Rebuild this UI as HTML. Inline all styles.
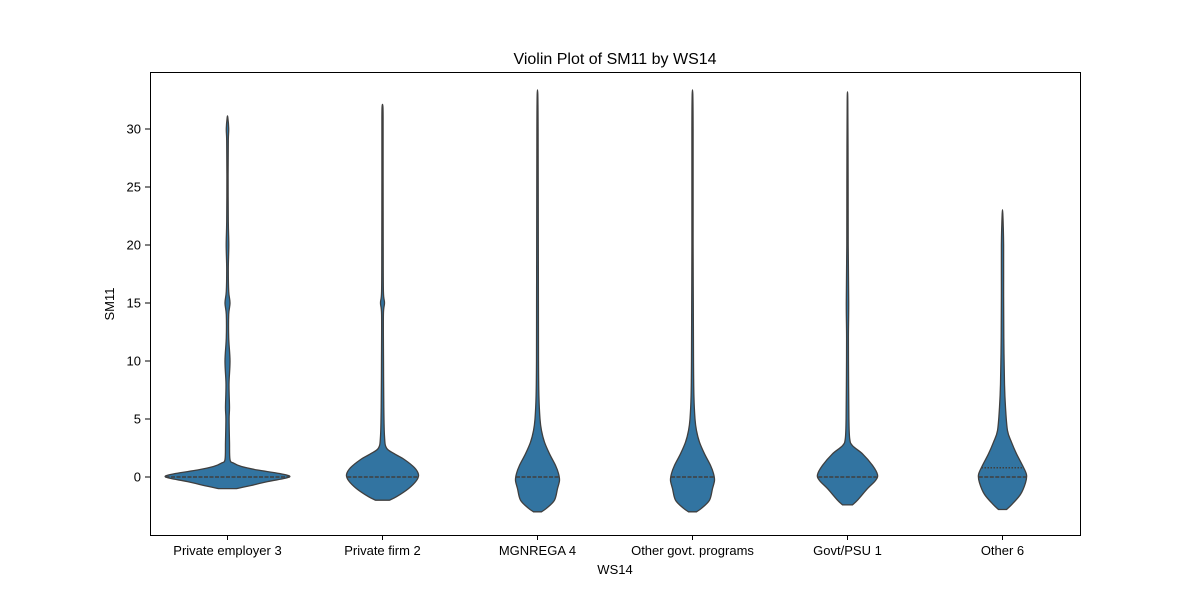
<!DOCTYPE html>
<html><head><meta charset="utf-8"><style>
body{margin:0;background:#fff}
svg{font-family:"Liberation Sans","DejaVu Sans",sans-serif}
</style></head><body>
<svg id="chart" width="1200" height="600">
<rect x="0" y="0" width="1200" height="600" fill="#fff"/>
<text x="615" y="64" font-size="16" text-anchor="middle">Violin Plot of SM11 by WS14</text>
<text x="615" y="574" font-size="13" text-anchor="middle">WS14</text>
<text x="114" y="304" font-size="13" text-anchor="middle" transform="rotate(-90 114 304)">SM11</text>
<g id="marks"></g>
<rect x="150.5" y="72.5" width="930" height="463" fill="none" stroke="#000" stroke-width="1"/>
</svg>
<script>
const categories=["Private employer 3","Private firm 2","MGNREGA 4","Other govt. programs","Govt/PSU 1","Other 6"];
const yTicks=[0,5,10,15,20,25,30];
const medians=[0,0,0,0,0,0];
const upperQuartiles=[null,null,null,null,null,0.8];
const levels=[
 [-1,-0.8,-0.4,0,0.3,0.6,0.9,1.2,1.5,3,5,6,8,10,12,14,15,16,18,20,22,26,29,30,31],
 [-2,-1.7,-1,-0.3,0.2,0.8,1.5,2,2.5,3.5,6,10,14,15,16,20,26,31,32],
 [-3,-2.7,-2,-1,-0.3,0.3,1,2,3,4,5,7,10,15,20,30,33],
 [-3,-2.7,-2,-1,-0.3,0.3,1,2,3,4,5,7,10,15,20,30,33],
 [-2.4,-2,-1,-0.3,0.2,1,2,2.7,3.3,5,8,12,15,20,26,32.4],
 [-2.8,-2.4,-1.5,-0.5,0.2,1,2,3,4,6,8,12,16,20,22.7]
];
const widths=[
 [9,20,40,62,52,30,14,6,2.5,2,1.6,2,1.5,2.5,1.2,1.2,2.5,1.2,0.8,1.3,0.8,0.6,0.8,1.2,0.3],
 [7,14,26,34,36,32,22,12,4,2,1.3,1,0.9,2,0.9,0.7,0.6,0.6,0.3],
 [4,9,17,20,22,21,18,12,7,4,2.5,1.4,1,0.9,0.8,0.6,0.3],
 [4,9,17,20,22,21,18,12,7,4,2.5,1.4,1,0.8,0.6,0.6,0.3],
 [5,10,20,28,30,25,15,5,2.2,1.4,1.1,0.9,1.2,0.7,0.6,0.3],
 [4,9,18,23,24,20,14,9,5,3,2,1.3,1.1,1.1,0.3]
];
const X0=150,X1=1080,Y0=72,Y1=535;
const band=(X1-X0)/categories.length;
const xPos=i=>X0+band*(i+0.5);
const yPos=v=>477-11.6*v;
const ns="http://www.w3.org/2000/svg";
const svg=document.getElementById('chart'),g=document.getElementById('marks');
function mk(t,a){const e=document.createElementNS(ns,t);for(const k in a)e.setAttribute(k,a[k]);return e;}
yTicks.forEach(t=>{
 const y=yPos(t);
 const l=mk('line',{x1:145,x2:150,y1:y,y2:y,stroke:'#000'});
 
 
 svg.appendChild(l);
 const tx=mk('text',{x:141,y:y+4.5,'font-size':13,'text-anchor':'end'});
 tx.textContent=t;
 
 
 svg.appendChild(tx);
});
categories.forEach((c,i)=>{
 const cx=xPos(i);
 const l=mk('line',{x1:cx,x2:cx,y1:535,y2:540,stroke:'#000'});
 
 
 svg.appendChild(l);
 const tx=mk('text',{x:cx,y:555,'font-size':13,'text-anchor':'middle'});
 tx.textContent=c;
 
 
 svg.appendChild(tx);
 const L=levels[i],W=widths[i];
 let pts=[];
 for(let k=0;k<L.length;k++)pts.push([cx+W[k],yPos(L[k])]);
 for(let k=L.length-1;k>=0;k--)pts.push([cx-W[k],yPos(L[k])]);
 let d='M'+pts[0][0]+','+pts[0][1];
 for(let k=0;k<pts.length-1;k++){
  const p0=pts[Math.max(k-1,0)],p1=pts[k],p2=pts[k+1],p3=pts[Math.min(k+2,pts.length-1)];
  d+=' C'+(p1[0]+(p2[0]-p0[0])/6)+','+(p1[1]+(p2[1]-p0[1])/6)+' '+(p2[0]-(p3[0]-p1[0])/6)+','+(p2[1]-(p3[1]-p1[1])/6)+' '+p2[0]+','+p2[1];
 }
 d+='Z';
 const p=mk('path',{d:d,fill:'#3274a1',stroke:'#3f3f3f','stroke-width':1.3});
 
 
 g.appendChild(p);
 const wAt=v=>{for(let k=0;k<L.length-1;k++)if(v>=L[k]&&v<=L[k+1]){const f=(v-L[k])/(L[k+1]-L[k]);return W[k]+f*(W[k+1]-W[k]);}return 0;};
 const m=medians[i],mw=wAt(m);
 const ml=mk('line',{x1:cx-mw,x2:cx+mw,y1:yPos(m),y2:yPos(m),stroke:'#3f3f3f','stroke-width':1.5,'stroke-dasharray':'4 1.5'});
 
 
 g.appendChild(ml);
 if(upperQuartiles[i]!==null){
  const q=upperQuartiles[i],qw=wAt(q);
  const ql=mk('line',{x1:cx-qw,x2:cx+qw,y1:yPos(q),y2:yPos(q),stroke:'#3f3f3f','stroke-width':1.5,'stroke-dasharray':'1.5 1.5'});
  
  
  g.appendChild(ql);
 }
});
</script>
</body></html>
